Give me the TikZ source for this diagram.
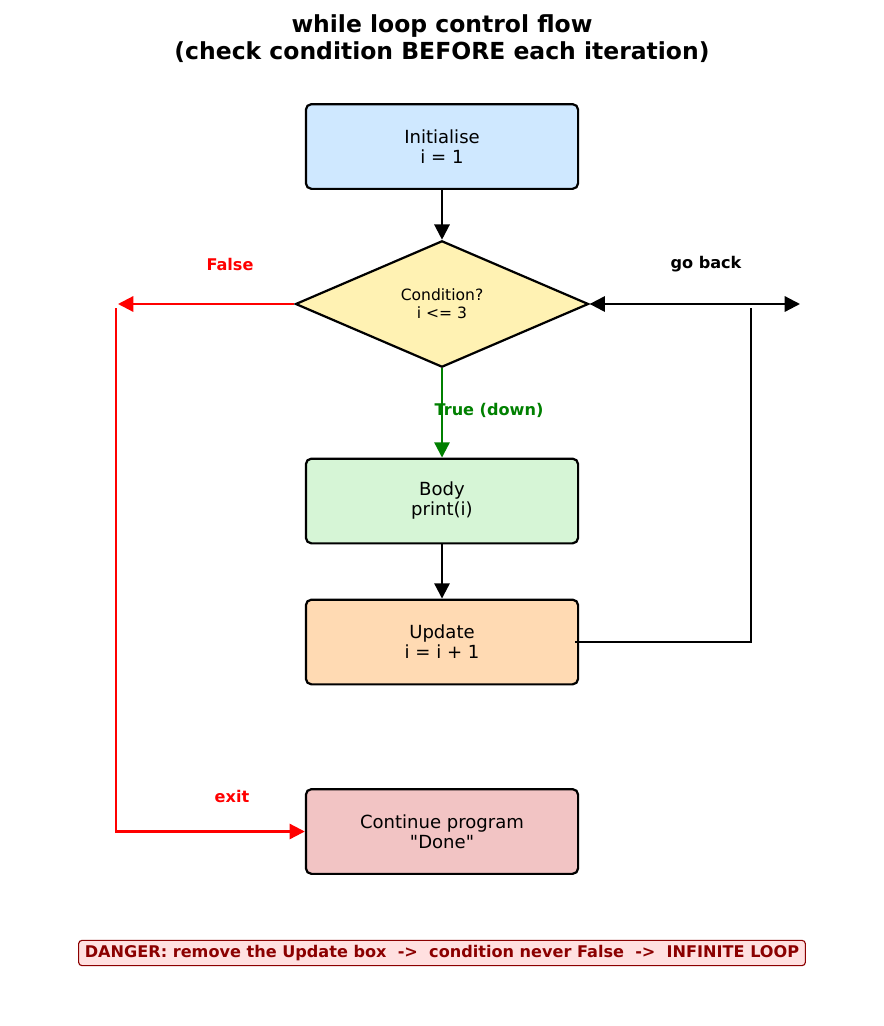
\documentclass[tikz,border=0pt]{standalone}
\usepackage{fontspec}
\setmainfont{DejaVu Sans}
\usetikzlibrary{arrows.meta,shapes.geometric}
\definecolor{initfill}{HTML}{CFE8FF}
\definecolor{condfill}{HTML}{FFF2B3}
\definecolor{bodyfill}{HTML}{D6F5D6}
\definecolor{updfill}{HTML}{FFDAB3}
\definecolor{contfill}{HTML}{F2C4C4}
\definecolor{dangerfill}{HTML}{FFE0E0}
\definecolor{darkred}{HTML}{8B0000}
\definecolor{mplgreen}{HTML}{008000}
\tikzset{
  box/.style={draw, line width=1.6pt, rounded corners=4pt, align=center,
    minimum width=196pt, minimum height=61pt,
    font=\fontsize{13}{14.4}\selectfont},
  cond/.style={draw, diamond, line width=1.6pt, inner sep=0pt, align=center,
    minimum width=211pt, minimum height=91pt, fill=condfill,
    font=\fontsize{11.2}{12.8}\selectfont},
  flow/.style={line width=1.6pt, -{Triangle[length=11pt,width=11pt]}},
  lbl/.style={font=\fontsize{11.6}{13}\selectfont\bfseries}
}
\begin{document}
\begin{tikzpicture}[x=0.72pt, y=-0.72pt]
  \useasboundingbox (0,0) rectangle (884,1026);
  \node[align=center, font=\fontsize{16.9}{19}\selectfont\bfseries] (title) at (442,38.5)
    {while loop control flow\\(check condition BEFORE each iteration)};
  \node[box, fill=initfill] (init) at (442,146.5) {Initialise\\i = 1};
  \node[cond] (cond) at (442,304) {Condition?\\i <= 3};
  \node[box, fill=bodyfill] (body) at (442,501) {Body\\print(i)};
  \node[box, fill=updfill] (upd) at (442,642) {Update\\i = i + 1};
  \node[box, fill=contfill] (cont) at (442,831.5) {Continue program\\\textquotedbl Done\textquotedbl};
  \node[draw=darkred, fill=dangerfill, text=darkred, line width=0.8pt,
    rounded corners=2.5pt, inner xsep=4.5pt, inner ysep=3.5pt,
    font=\fontsize{11.6}{13}\selectfont\bfseries] (danger) at (442,953)
    {DANGER: remove the Update box\ \ ->\ \ condition never False\ \ ->\ \ INFINITE LOOP};
  \coordinate (falseend) at (118,304);
  \coordinate (exitstart) at (116,308);
  \coordinate (backend) at (800,304);
  \coordinate (backcorner) at (751,642);
  \coordinate (backtop) at (751,308);
  \node[lbl, text=red] (falselbl) at (230,264) {False};
  \node[lbl, text=red] (exitlbl) at (232,796) {exit};
  \node[lbl] (backlbl) at (706,264) {go back};
  \node[lbl, text=mplgreen] (truelbl) at (489,410) {True (down)};
  \begin{scope}[flow]
    \draw (init) to (cond);
    \draw[mplgreen] (cond) to (body);
    \draw (body) to (upd);
    \draw[red] (cond) to (falseend);
    \draw[red] (exitstart) |- (cont);
    \draw[{Triangle[length=11pt,width=11pt]}-{Triangle[length=11pt,width=11pt]}]
      (cond.east) to (backend);
  \end{scope}
  \draw[line width=1.6pt] ([xshift=-3pt]upd.east) -- (backcorner) -- (backtop);
\end{tikzpicture}
\end{document}
